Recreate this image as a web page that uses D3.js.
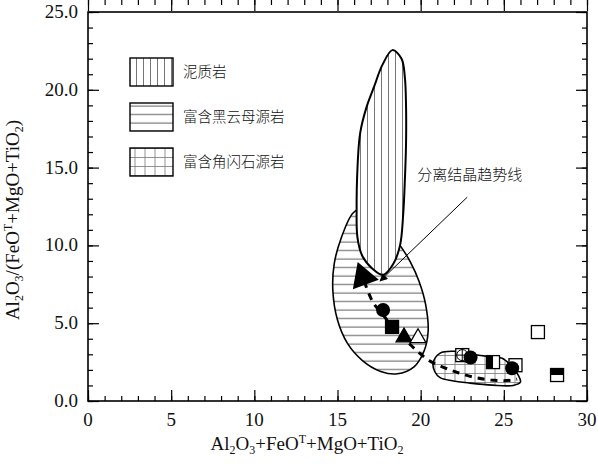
<!DOCTYPE html>
<html>
<head>
<meta charset="utf-8">
<script src="https://cdn.jsdelivr.net/npm/d3@7"></script>
<style>
body { margin:0; background:#fff; }
text { font-family: "Liberation Serif", "Times New Roman", serif; fill:#111; }
.cn { font-family: "Noto Sans CJK SC", sans-serif; font-weight:300; }
</style>
</head>
<body>
<svg width="598" height="464"></svg>
<script>
var width = 598, height = 464;
var margin = {left:88, right:11, top:12, bottom:63};

// axis ticks
var xTicks = [0,5,10,15,20,25,30];
var yTicks = [0,5,10,15,20,25];

// field outlines [x, y]
var pelite = [[18.3,22.55],[18.85,22.0],[19.05,20.8],[19.12,19.0],[19.12,16.5],[19.05,14.2],[18.95,12.0],[18.76,10.0],[18.35,8.8],[17.74,8.1],[17.1,8.5],[16.5,9.3],[16.2,10.5],[16.15,12.5],[16.18,14.4],[16.36,17.2],[16.75,18.9],[17.2,20.2],[17.7,21.6]];
var biotite = [[15.95,12.1],[15.2,10.4],[14.8,8.8],[14.72,7.1],[15.0,5.2],[15.6,3.7],[16.5,2.6],[17.6,1.9],[18.6,1.75],[19.6,2.2],[20.2,3.2],[20.45,4.5],[20.3,6.2],[19.9,7.7],[19.4,8.9],[18.76,10.0],[17.6,11.6],[16.6,12.4]];
var amphibole = [[20.75,2.44],[21.17,3.08],[22.0,3.2],[22.6,3.15],[23.39,2.96],[24.2,2.85],[24.9,2.75],[25.5,2.2],[25.85,1.7],[26.0,1.22],[25.56,1.0],[24.3,1.02],[22.97,1.15],[21.9,1.3],[21.17,1.5],[20.85,1.88]];

// fractional crystallisation trend
var trend = [[16.6,7.7],[17.1,6.4],[17.7,5.6],[18.4,4.6],[19.2,3.8],[19.8,3.2],[20.5,2.6],[21.3,2.2],[22.3,1.8],[23.3,1.5],[24.2,1.35],[25.0,1.3],[25.8,1.4]];

// samples
var sampleX    = [16.54, 17.74, 18.28, 19.0, 19.84, 22.5, 23.0, 24.35, 25.7, 25.5, 27.05, 28.2];
var sampleY    = [7.97, 5.85, 4.76, 4.1, 4.05, 2.95, 2.8, 2.5, 2.3, 2.1, 4.43, 1.67];
var sampleType = ["triR","cirF","sqF","triF","triO","sqX","cirF","sqL","sqO","cirF","sqO","sqT"];

var legendLabels = ["泥质岩","富含黑云母源岩","富含角闪石源岩"];
var legendFill = ["url(#vert)","url(#horiz)","url(#grid)"];

var svg = d3.select("svg");
var x = d3.scaleLinear().domain([0,30]).range([margin.left, width - margin.right]);
var y = d3.scaleLinear().domain([0,25]).range([height - margin.bottom, margin.top]);

var defs = svg.append("defs");
var p1 = defs.append("pattern").attr("id","vert").attr("patternUnits","userSpaceOnUse").attr("width",7).attr("height",7);
p1.append("rect").attr("width",7).attr("height",7).attr("fill","#fff");
p1.append("line").attr("x1",3.5).attr("x2",3.5).attr("y1",0).attr("y2",7).attr("stroke","#666").attr("stroke-width",0.9);
var p2 = defs.append("pattern").attr("id","horiz").attr("patternUnits","userSpaceOnUse").attr("width",8).attr("height",8.5);
p2.append("rect").attr("width",8).attr("height",8.5).attr("fill","#fff");
p2.append("line").attr("x1",0).attr("x2",8).attr("y1",4).attr("y2",4).attr("stroke","#444").attr("stroke-width",0.9);
var p3 = defs.append("pattern").attr("id","grid").attr("patternUnits","userSpaceOnUse").attr("width",10).attr("height",9);
p3.append("rect").attr("width",10).attr("height",9).attr("fill","#fff");
p3.append("line").attr("x1",5).attr("x2",5).attr("y1",0).attr("y2",9).attr("stroke","#777").attr("stroke-width",0.8);
p3.append("line").attr("x1",0).attr("x2",10).attr("y1",4.5).attr("y2",4.5).attr("stroke","#777").attr("stroke-width",0.8);

var area = d3.line().x(function(d){return x(d[0]);}).y(function(d){return y(d[1]);}).curve(d3.curveCatmullRomClosed.alpha(0.5));

svg.append("path").attr("d", area(biotite)).attr("fill","url(#horiz)").attr("stroke","#000").attr("stroke-width",1.6);
svg.append("path").attr("d", area(amphibole)).attr("fill","url(#grid)").attr("stroke","#000").attr("stroke-width",1.6);
svg.append("path").attr("d", area(pelite)).attr("fill","url(#vert)").attr("stroke","#000").attr("stroke-width",2);

// trend line
svg.append("path")
  .attr("d", d3.line().x(function(d){return x(d[0]);}).y(function(d){return y(d[1]);}).curve(d3.curveMonotoneX)(trend))
  .attr("fill","none").attr("stroke","#000").attr("stroke-width",3).attr("stroke-dasharray","7,6");

// samples
var s = 13;
sampleX.forEach(function(vx, i) {
  var cx = x(vx), cy = y(sampleY[i]), t = sampleType[i];
  var g = svg.append("g").attr("transform","translate(" + cx + "," + cy + ")");
  if (t == "triR") {
    g.append("path").attr("d", d3.symbol(d3.symbolTriangle, 330)()).attr("transform","rotate(100)").attr("fill","#000");
  } else if (t == "triF" || t == "triO") {
    g.append("path").attr("d", d3.symbol(d3.symbolTriangle, 110)())
      .attr("fill", t == "triF" ? "#000" : "#fff").attr("stroke","#000").attr("stroke-width",1.3);
  } else if (t == "cirF") {
    g.append("circle").attr("r",7).attr("fill","#000");
  } else {
    g.append("rect").attr("x",-s/2).attr("y",-s/2).attr("width",s).attr("height",s)
      .attr("fill", t == "sqF" ? "#000" : "#fff").attr("stroke","#000").attr("stroke-width",1.3);
    if (t == "sqT") g.append("rect").attr("x",-s/2).attr("y",-s/2).attr("width",s).attr("height",s/2).attr("fill","#000");
    if (t == "sqL") g.append("rect").attr("x",-s/2).attr("y",-s/2).attr("width",s/2).attr("height",s).attr("fill","#000");
    if (t == "sqX") {
      g.append("circle").attr("r",5.5).attr("fill","none").attr("stroke","#000").attr("stroke-width",1);
      g.append("line").attr("x1",-s/2).attr("x2",s/2).attr("y1",0).attr("y2",0).attr("stroke","#000");
      g.append("line").attr("x1",0).attr("x2",0).attr("y1",-s/2).attr("y2",s/2).attr("stroke","#000");
    }
  }
});

// annotation arrow
defs.append("marker").attr("id","arr").attr("viewBox","0 0 10 10").attr("refX",9).attr("refY",5)
  .attr("markerWidth",12).attr("markerHeight",8).attr("markerUnits","userSpaceOnUse").attr("orient","auto")
  .append("path").attr("d","M0,0L10,5L0,10Z").attr("fill","#000");
svg.append("line").attr("x1",x(22.8)).attr("y1",y(13.1)).attr("x2",x(17.56)).attr("y2",y(7.71))
  .attr("stroke","#000").attr("stroke-width",1).attr("marker-end","url(#arr)");
svg.append("text").attr("class","cn").attr("x",x(22.95)).attr("y",y(14.2)).attr("text-anchor","middle")
  .attr("font-size",15).text("分离结晶趋势线");

// legend
legendLabels.forEach(function(lab, i) {
  var ly = 58 + i * 45;
  svg.append("rect").attr("x",130).attr("y",ly).attr("width",43).attr("height",28)
    .attr("fill",legendFill[i]).attr("stroke","#000").attr("stroke-width",1.4);
  svg.append("text").attr("class","cn").attr("x",183).attr("y",ly + 19).attr("font-size",14.5).text(lab);
});

// frame and ticks
var minorX = d3.range(0,31,1), minorY = d3.range(0,26,1);
function ax(gen, pos, vals, len) {
  svg.append("g").attr("transform", pos).call(gen.tickValues(vals).tickSize(-len).tickFormat(""))
    .call(function(g){ g.select(".domain").remove(); g.selectAll("line").attr("stroke","#000").attr("stroke-width",1.2); });
}
var bot = "translate(0," + y(0) + ")", top = "translate(0," + y(25) + ")";
var lef = "translate(" + x(0) + ",0)", rig = "translate(" + x(30) + ",0)";
ax(d3.axisBottom(x), bot, minorX, 5); ax(d3.axisBottom(x), bot, xTicks, 11);
ax(d3.axisTop(x), top, minorX, 5); ax(d3.axisTop(x), top, xTicks, 11);
ax(d3.axisLeft(y), lef, minorY, 5); ax(d3.axisLeft(y), lef, yTicks, 11);
ax(d3.axisRight(y), rig, minorY, 5); ax(d3.axisRight(y), rig, yTicks, 11);

svg.append("rect").attr("x",x(0)).attr("y",y(25)).attr("width",x(30)-x(0)).attr("height",y(0)-y(25))
  .attr("fill","none").attr("stroke","#000").attr("stroke-width",1.6);

svg.selectAll(".xl").data(xTicks).enter().append("text")
  .attr("x", function(d){return x(d);}).attr("y", y(0) + 25).attr("text-anchor","middle")
  .attr("font-size",19).text(function(d){return d;});
svg.selectAll(".yl").data(yTicks).enter().append("text")
  .attr("x", x(0) - 10).attr("y", function(d){return y(d) + 6;}).attr("text-anchor","end")
  .attr("font-size",19).text(function(d){return d3.format(".1f")(d);});

// axis titles
function chem(t, parts) {
  parts.forEach(function(p) {
    var ts = t.append("tspan").text(p[0]);
    if (p[1] == "sub") ts.attr("font-size",12).attr("dy",4);
    else if (p[1] == "sup") ts.attr("font-size",12).attr("dy",-7);
    if (p[2]) ts.attr("dy", p[2]);
  });
}
var xt = svg.append("text").attr("x",307).attr("y",450).attr("text-anchor","middle").attr("font-size",19);
chem(xt, [["Al"],["2","sub"],["O",null,-4],["3","sub"],["+FeO",null,-4],["T","sup"],["+MgO+TiO",null,7],["2","sub"]]);
var yt = svg.append("text").attr("transform","translate(19,220) rotate(-90)").attr("text-anchor","middle").attr("font-size",19);
chem(yt, [["Al"],["2","sub"],["O",null,-4],["3","sub"],["/(FeO",null,-4],["T","sup"],["+MgO+TiO",null,7],["2","sub"],[")",null,-4]]);
</script>
</body>
</html>
